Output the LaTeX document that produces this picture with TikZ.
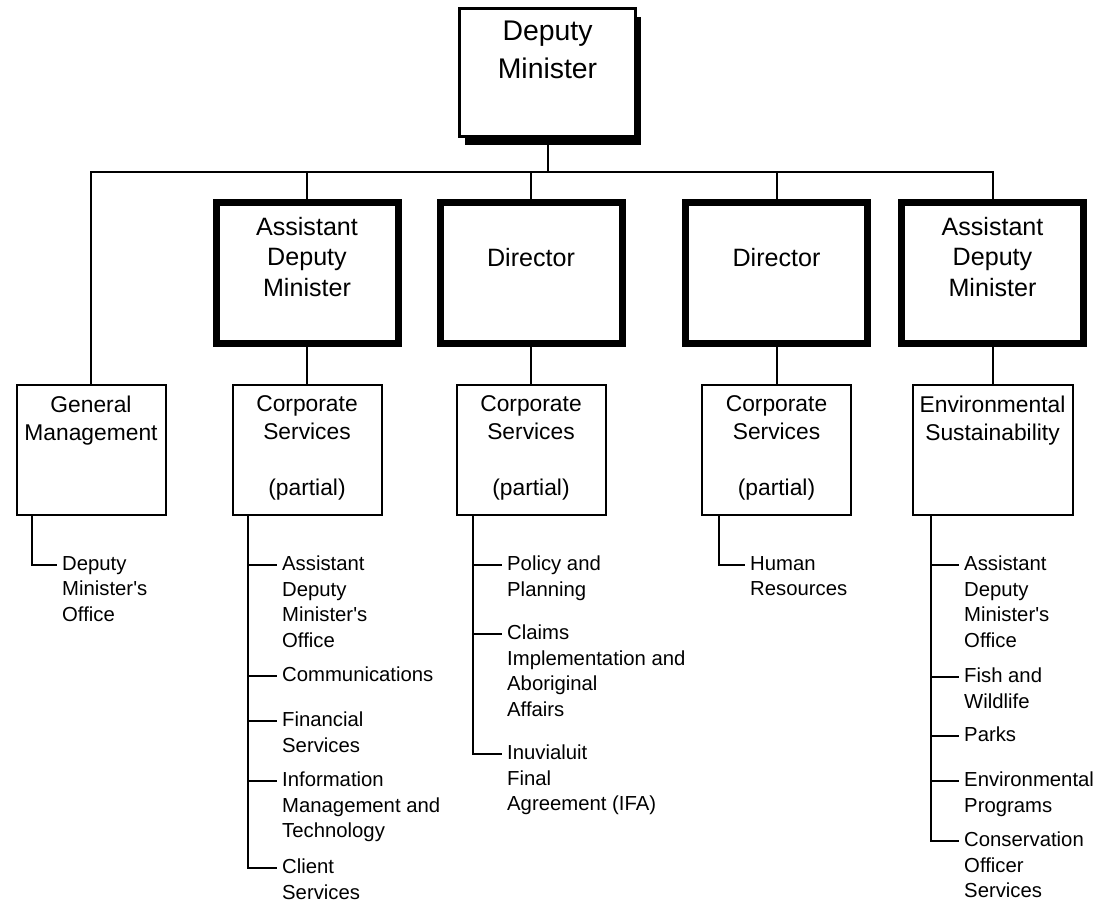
\documentclass[tikz,border=0pt]{standalone}
\usepackage{fontspec}
\setmainfont{Liberation Sans}
\usetikzlibrary{shadows}
\tikzset{
	chief/.style={draw, fill=white, line width=2.5pt, minimum width=176pt, minimum height=128pt, inner sep=0pt,
		drop shadow={shadow xshift=5pt, shadow yshift=-8pt, fill=black, opacity=1}},
	head/.style={draw, line width=7pt, minimum width=182pt, minimum height=141pt, inner sep=0pt},
	unit/.style={draw, line width=2pt, minimum width=149pt, minimum height=130pt, inner sep=0pt},
	chieftext/.style={font=\fontsize{28.4}{37.6}\selectfont, align=center, inner sep=0pt, anchor=north},
	headtext/.style={font=\fontsize{25.1}{30.5}\selectfont, align=center, inner sep=0pt, anchor=north},
	unittext/.style={font=\fontsize{22.8}{28}\selectfont, align=center, inner sep=0pt, anchor=north},
	office/.style={font=\fontsize{20.3}{25.5}\selectfont, align=left, inner sep=0pt, anchor=north west},
	link/.style={line width=2pt},
}
\begin{document}
\begin{tikzpicture}[x=1pt, y=-1pt]
	\useasboundingbox (0,0) rectangle (1098,902);
	% Deputy Minister
		\node[chief] (dm) at (547.5,72.5) {};
		\node[chieftext] (dm-t) at ([yshift=-14pt]dm.north) {Deputy\\Minister};
		\coordinate (bus) at (547.5,172);
		\draw[link] (dm.south) -- (bus);

	% Assistant Deputy Ministers and Directors
		\node[head] (adm1) at (307,273) {};
		\node[head] (dir1) at (531,273) {};
		\node[head] (dir2) at (776.5,273) {};
		\node[head] (adm2) at (992.5,273) {};
		\node[headtext] (adm1-t) at ([yshift=-17.9pt]adm1.north) {Assistant\\Deputy\\Minister};
		\node[headtext] (dir1-t) at ([yshift=-48.9pt]dir1.north) {Director};
		\node[headtext] (dir2-t) at ([yshift=-48.9pt]dir2.north) {Director};
		\node[headtext] (adm2-t) at ([yshift=-17.9pt]adm2.north) {Assistant\\Deputy\\Minister};

	% Divisions
		\node[unit] (gm) at (91,450) {};
		\node[unit] (cs1) at (307,450) {};
		\node[unit] (cs2) at (531,450) {};
		\node[unit] (cs3) at (776.5,450) {};
		\node[unit, minimum width=160pt] (es) at (992.5,450) {};
		\node[unittext] (gm-t) at ([yshift=-11.5pt]gm.north) {General\\Management};
		\node[unittext] (cs1-t) at ([yshift=-11.5pt]cs1.north) {Corporate\\Services\\[28pt](partial)};
		\node[unittext] (cs2-t) at ([yshift=-11.5pt]cs2.north) {Corporate\\Services\\[28pt](partial)};
		\node[unittext] (cs3-t) at ([yshift=-11.5pt]cs3.north) {Corporate\\Services\\[28pt](partial)};
		\node[unittext] (es-t) at ([yshift=-11.5pt]es.north) {Environmental\\Sustainability};

	% Bus
		\draw[link] (gm.north) |- (bus);
		\draw[link] (adm1.north) |- (bus);
		\draw[link] (dir1.north) |- (bus);
		\draw[link] (dir2.north) |- (bus);
		\draw[link] (adm2.north) |- (bus);
		\draw[link] (adm1.south) -- (cs1.north);
		\draw[link] (dir1.south) -- (cs2.north);
		\draw[link] (dir2.south) -- (cs3.north);
		\draw[link] (adm2.south) -- (es.north);

	% Offices
		% General Management
			\coordinate (gm-s) at ([xshift=16pt]gm.south west);
			\coordinate (gm-1) at (57,565);
			\draw[link] (gm-s) |- (gm-1);
			\node[office] (gm-o1) at ([shift={(5,-9.1)}]gm-1) {Deputy\\Minister\textquotesingle s\\Office};
		% Corporate Services (ADM)
			\coordinate (cs1-s) at ([xshift=16pt]cs1.south west);
			\coordinate (cs1-1) at (277,565);
			\coordinate (cs1-2) at (277,676);
			\coordinate (cs1-3) at (277,721);
			\coordinate (cs1-4) at (277,781);
			\coordinate (cs1-5) at (277,868);
			\draw[link] (cs1-s) |- (cs1-1);
			\draw[link] (cs1-s) |- (cs1-2);
			\draw[link] (cs1-s) |- (cs1-3);
			\draw[link] (cs1-s) |- (cs1-4);
			\draw[link] (cs1-s) |- (cs1-5);
			\node[office] (cs1-o1) at ([shift={(5,-9.1)}]cs1-1) {Assistant\\Deputy\\Minister\textquotesingle s\\Office};
			\node[office] (cs1-o2) at ([shift={(5,-9.1)}]cs1-2) {Communications};
			\node[office] (cs1-o3) at ([shift={(5,-9.1)}]cs1-3) {Financial\\Services};
			\node[office] (cs1-o4) at ([shift={(5,-9.1)}]cs1-4) {Information\\Management and\\Technology};
			\node[office] (cs1-o5) at ([shift={(5,-9.1)}]cs1-5) {Client\\Services};
		% Corporate Services (Director)
			\coordinate (cs2-s) at ([xshift=17.5pt]cs2.south west);
			\coordinate (cs2-1) at (502,565);
			\coordinate (cs2-2) at (502,634);
			\coordinate (cs2-3) at (502,754);
			\draw[link] (cs2-s) |- (cs2-1);
			\draw[link] (cs2-s) |- (cs2-2);
			\draw[link] (cs2-s) |- (cs2-3);
			\node[office] (cs2-o1) at ([shift={(5,-9.1)}]cs2-1) {Policy and\\Planning};
			\node[office] (cs2-o2) at ([shift={(5,-9.1)}]cs2-2) {Claims\\Implementation and\\Aboriginal\\Affairs};
			\node[office] (cs2-o3) at ([shift={(5,-9.1)}]cs2-3) {Inuvialuit\\Final\\Agreement (IFA)};
		% Corporate Services (Director)
			\coordinate (cs3-s) at ([xshift=18pt]cs3.south west);
			\coordinate (cs3-1) at (745,565);
			\draw[link] (cs3-s) |- (cs3-1);
			\node[office] (cs3-o1) at ([shift={(5,-9.1)}]cs3-1) {Human\\Resources};
		% Environmental Sustainability
			\coordinate (es-s) at ([xshift=19.5pt]es.south west);
			\coordinate (es-1) at (959,565);
			\coordinate (es-2) at (959,677);
			\coordinate (es-3) at (959,736);
			\coordinate (es-4) at (959,781);
			\coordinate (es-5) at (959,841);
			\draw[link] (es-s) |- (es-1);
			\draw[link] (es-s) |- (es-2);
			\draw[link] (es-s) |- (es-3);
			\draw[link] (es-s) |- (es-4);
			\draw[link] (es-s) |- (es-5);
			\node[office] (es-o1) at ([shift={(5,-9.1)}]es-1) {Assistant\\Deputy\\Minister\textquotesingle s\\Office};
			\node[office] (es-o2) at ([shift={(5,-9.1)}]es-2) {Fish and\\Wildlife};
			\node[office] (es-o3) at ([shift={(5,-9.1)}]es-3) {Parks};
			\node[office] (es-o4) at ([shift={(5,-9.1)}]es-4) {Environmental\\Programs};
			\node[office] (es-o5) at ([shift={(5,-9.1)}]es-5) {Conservation\\Officer\\Services};
\end{tikzpicture}
\end{document}
